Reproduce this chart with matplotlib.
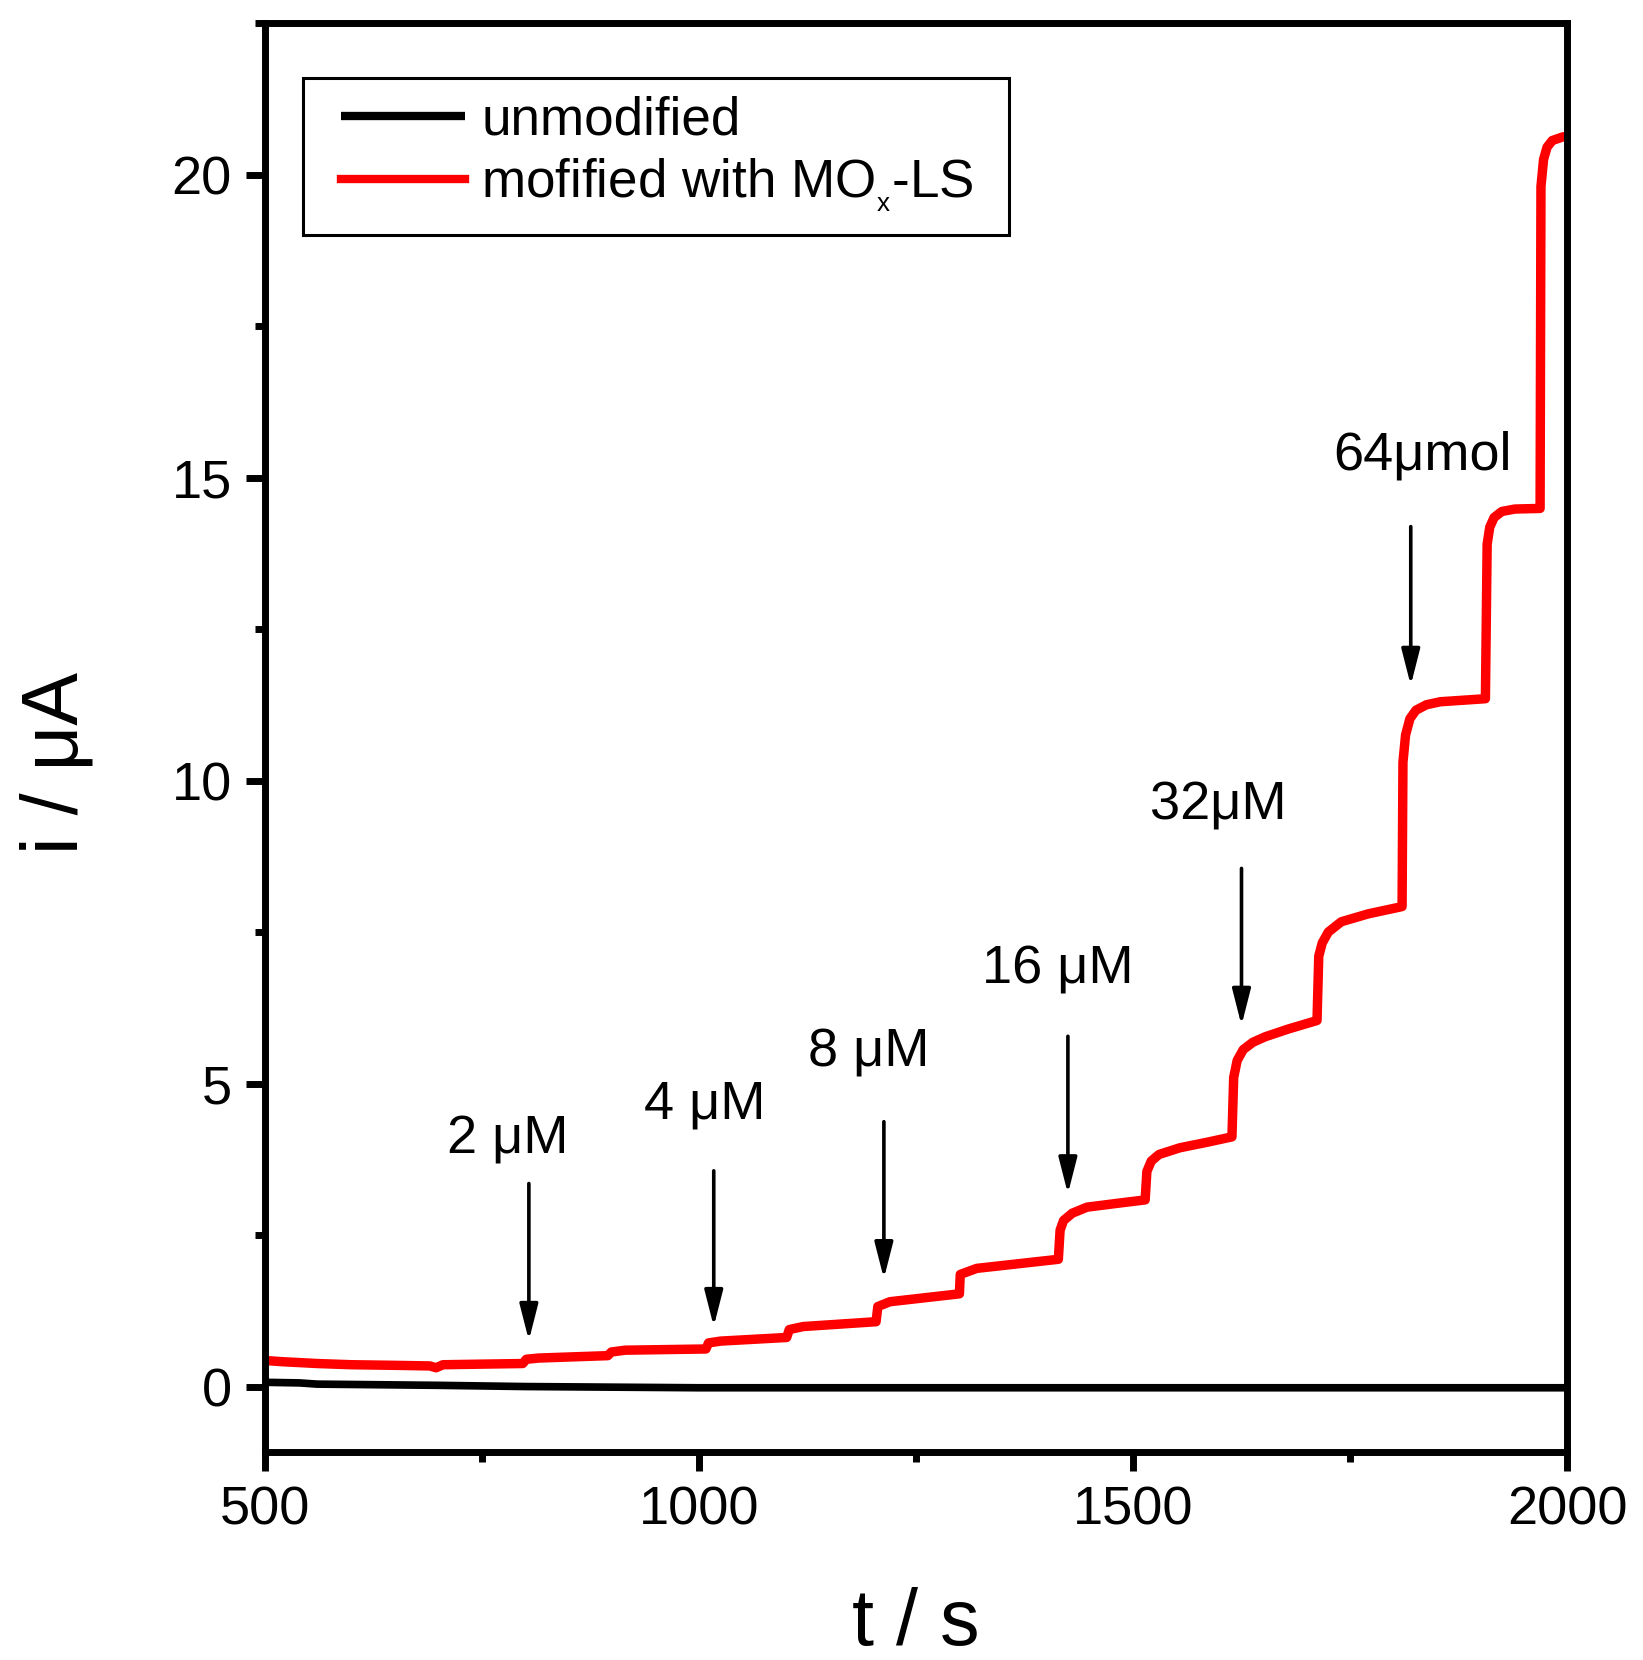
import matplotlib
matplotlib.use("Agg")
import matplotlib.pyplot as plt
from matplotlib.ticker import MultipleLocator
from matplotlib.patches import Rectangle

plt.rcParams['font.family'] = ['Liberation Sans', 'DejaVu Sans']
plt.rcParams['mathtext.default'] = 'regular'

# ---- data ----
t_unmod = [500, 540, 560, 700, 800, 1000, 1500, 2000]
i_unmod = [0.07, 0.06, 0.04, 0.02, 0.0, -0.02, -0.02, -0.02]

t_mod = [500, 520, 560, 600, 650, 690, 697, 705, 750, 797,
         801, 815, 895,
         899, 915, 1008,
         1011, 1025, 1101,
         1104, 1120, 1204,
         1206, 1220, 1300,
         1301, 1320, 1414,
         1416, 1420, 1430, 1447, 1480, 1514,
         1516, 1521, 1530, 1554, 1585, 1614,
         1616, 1620, 1627, 1638, 1652, 1679, 1712,
         1714, 1718, 1725, 1740, 1771, 1810,
         1811, 1814, 1819, 1826, 1838, 1854, 1906,
         1908, 1911, 1916, 1925, 1940, 1969,
         1970, 1973, 1977, 1983, 1995, 2000]
i_mod = [0.43, 0.41, 0.38, 0.36, 0.35, 0.34, 0.31, 0.36, 0.37, 0.38,
         0.45, 0.47, 0.51,
         0.57, 0.60, 0.62,
         0.72, 0.75, 0.81,
         0.94, 0.99, 1.07,
         1.32, 1.40, 1.53,
         1.85, 1.95, 2.10,
         2.58, 2.74, 2.86, 2.96, 3.02, 3.08,
         3.55, 3.72, 3.83, 3.94, 4.03, 4.12,
         5.10, 5.38, 5.56, 5.68, 5.77, 5.90, 6.04,
         7.10, 7.32, 7.50, 7.67, 7.80, 7.92,
         10.30, 10.75, 11.02, 11.16, 11.25, 11.30, 11.35,
         13.90, 14.18, 14.34, 14.44, 14.48, 14.49,
         19.80, 20.25, 20.45, 20.56, 20.62, 20.63]

series_labels = ['unmodified', 'mofified with MO$_{_{x}}$-LS']

ann_labels = ['2 μM', '4 μM', '8 μM', '16 μM', '32μM', '64μmol']
ann_text_t = [780, 1007, 1196, 1413, 1598, 1833]
ann_text_i = [3.84, 4.42, 5.28, 6.65, 9.36, 15.13]
arrow_t = [804, 1017, 1213, 1425, 1625, 1820]
arrow_tail = [3.35, 3.56, 4.37, 5.78, 8.55, 14.19]
arrow_tip = [0.76, 0.99, 1.78, 3.18, 5.96, 11.57]

x_ticks = [500, 1000, 1500, 2000]
y_ticks = [0, 5, 10, 15, 20]

# ---- figure ----
W, H = 1643, 1660
fig = plt.figure(figsize=(W / 100, H / 100), dpi=100)
ax = fig.add_axes([265 / W, 1 - 1452 / H, 1302 / W, 1429 / H])

ax.plot(t_unmod, i_unmod, color='black', lw=5.5, solid_capstyle='butt',
        label=series_labels[0])
ax.plot(t_mod, i_mod, color='#ff0000', lw=6.8, solid_joinstyle='round',
        label=series_labels[1])

ax.set_xlim(500, 2000)
ax.set_ylim(-1.08, 22.5)
ax.set_xticks(x_ticks)
ax.set_yticks(y_ticks)
ax.xaxis.set_minor_locator(MultipleLocator(250))
ax.yaxis.set_minor_locator(MultipleLocator(2.5))

for s in ax.spines.values():
    s.set_linewidth(5)
ax.tick_params(which='major', direction='out', length=14, width=5,
               labelsize=39, pad=10, top=False, right=False)
ax.tick_params(which='minor', direction='out', length=7, width=5,
               top=False, right=False)

ax.set_xlabel('t / s', fontsize=57)
ax.set_ylabel('i / μA', fontsize=57)
ax.xaxis.label.set_va('baseline')
ax.xaxis.set_label_coords(0.5, -0.135)
ax.yaxis.label.set_va('center')
ax.yaxis.set_label_coords(-0.160, 0.482)

for lab, tx, ty, at, a0, a1 in zip(ann_labels, ann_text_t, ann_text_i,
                                   arrow_t, arrow_tail, arrow_tip):
    ax.text(tx, ty, lab, fontsize=39, ha='center', va='baseline')
    ax.annotate('', xy=(at, a1), xytext=(at, a0),
                arrowprops=dict(arrowstyle='-|>,head_length=1.1,head_width=0.28',
                                mutation_scale=20, lw=2.6, color='black',
                                shrinkA=0, shrinkB=0))

leg = ax.legend(loc='upper left', bbox_to_anchor=(0.0584, 0.949),
                fontsize=38.2, frameon=False, handlelength=2.34,
                handletextpad=0.3, borderpad=0, labelspacing=0.2,
                borderaxespad=0)
for h in leg.get_lines():
    h.set_linewidth(6)

ax.add_patch(Rectangle((0.0292, 0.8516), 0.5714 - 0.0292, 0.9615 - 0.8516,
                       transform=ax.transAxes, fill=False, edgecolor='black',
                       linewidth=2.2, zorder=6))

fig.savefig('out.png', dpi=100)
